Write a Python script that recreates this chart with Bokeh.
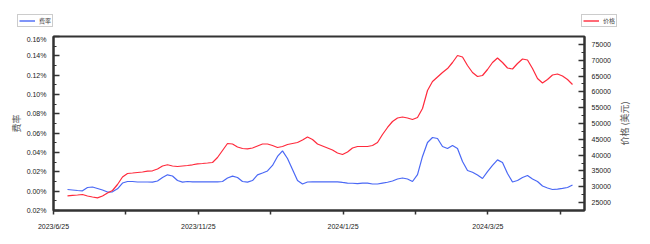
from bokeh.plotting import figure
from bokeh.layouts import column, row
from bokeh.models import Range1d, LinearAxis, FixedTicker, Legend, LegendItem, Title
from bokeh.embed import file_html
from bokeh.resources import INLINE

# ---------------- data ----------------
# fee rate, in percent (0.01 means 0.01%)
fee_rate = [
    0.0017, 0.0012, 0.0007, 0.0004, 0.0038, 0.0043, 0.0028, 0.0012, -0.0009, -0.0007,
    0.0024, 0.0084, 0.0100, 0.0100, 0.0095, 0.0095, 0.0095, 0.0093, 0.0105, 0.0141,
    0.0169, 0.0157, 0.0110, 0.0093, 0.0100, 0.0097, 0.0097, 0.0097, 0.0097, 0.0097,
    0.0097, 0.0100, 0.0136, 0.0155, 0.0141, 0.0100, 0.0093, 0.0110, 0.0169, 0.0188,
    0.0209, 0.0266, 0.0359, 0.0416, 0.0338, 0.0224, 0.0110, 0.0074, 0.0095, 0.0097,
    0.0097, 0.0097, 0.0097, 0.0097, 0.0097, 0.0090, 0.0084, 0.0082, 0.0079, 0.0084,
    0.0084, 0.0074, 0.0074, 0.0084, 0.0092, 0.0105, 0.0126, 0.0136, 0.0126, 0.0100,
    0.0172, 0.0359, 0.0503, 0.0555, 0.0545, 0.0462, 0.0441, 0.0472, 0.0441, 0.0307,
    0.0214, 0.0196, 0.0167, 0.0131, 0.0203, 0.0266, 0.0324, 0.0297, 0.0183, 0.0095,
    0.0110, 0.0141, 0.0162, 0.0126, 0.0100, 0.0053, 0.0033, 0.0017, 0.0022, 0.0028,
    0.0038, 0.0064,
]

# price, USD
price = [
    27150, 27300, 27400, 27560, 27080, 26770, 26510, 27080, 28030, 28820,
    30720, 33090, 34200, 34350, 34510, 34670, 34920, 35050, 35620, 36570,
    36950, 36570, 36410, 36570, 36720, 36950, 37260, 37360, 37510, 37670,
    39250, 41470, 43680, 43520, 42570, 42100, 42000, 42260, 42890, 43520,
    43520, 43050, 42420, 42730, 43360, 43680, 43990, 44780, 45730, 44940,
    43520, 42890, 42260, 41620, 40680, 40200, 40990, 42260, 42730, 42730,
    42730, 43050, 43990, 46520, 48740, 50630, 51740, 52050, 51740, 51260,
    51900, 54740, 60430, 63280, 64700, 66120, 67380, 69280, 71490, 71020,
    68330, 66120, 64860, 65170, 67070, 69280, 70700, 69280, 67540, 67230,
    68970, 70390, 70070, 67380, 64220, 62800, 63910, 65330, 65650, 65010,
    63910, 62330,
]

day_index = list(range(len(fee_rate)))

x_tick_labels = ["2023/6/25", "", "2023/11/25", "", "2024/1/25", "", "2024/3/25", ""]

fee_ticks = [-0.02, 0.0, 0.02, 0.04, 0.06, 0.08, 0.10, 0.12, 0.14, 0.16]
fee_tick_labels = ["0.02%", "0.00%", "0.02%", "0.04%", "0.06%", "0.08%",
                   "0.10%", "0.12%", "0.14%", "0.16%"]
fee_minor = [-0.01, 0.01, 0.03, 0.05, 0.07, 0.09, 0.11, 0.13, 0.15]

price_ticks = [25000, 30000, 35000, 40000, 45000, 50000, 55000, 60000, 65000, 70000, 75000]
price_minor = [22500, 27500, 32500, 37500, 42500, 47500, 52500, 57500, 62500, 67500, 72500, 77500]

fee_label = "费率"
price_label = "价格"
price_axis_label = "价格 (美元)"

# ---------------- styling ----------------
BLUE = "#4a68f5"
RED = "#ff2a3c"
AX = "#333333"
TICK_FONT = "Liberation Sans"
CJK = "Noto Sans CJK SC"

W, H = 650, 244
STRIP_H = 35          # legend strip above the chart
LAB_W = 35            # strip right of the chart holding the rotated price label
FRAME_L, FRAME_R = 53, 584
BOTTOM = 34

# ---------------- legend strip (above the chart) ----------------
strip = figure(width=W, height=STRIP_H, output_backend="svg", toolbar_location=None,
               x_range=Range1d(-30, -20), y_range=Range1d(0, 1),
               x_axis_location=None, y_axis_location=None,
               min_border_left=0, min_border_right=0,
               min_border_top=0, min_border_bottom=0, frame_align=False,
               border_fill_color="white", background_fill_color="white")
strip.outline_line_color = None
strip.xgrid.visible = False
strip.ygrid.visible = False
# same series, outside the strip's (empty) view: they only feed the legend glyphs
leg_blue = strip.line(day_index, fee_rate, line_color=BLUE, line_width=1.4)
leg_red = strip.line(day_index, price, line_color=RED, line_width=1.4)


def make_legend(label, renderer, loc):
    return Legend(items=[LegendItem(label=label, renderers=[renderer])],
                  location=loc, orientation="vertical",
                  label_text_font=CJK, label_text_font_size="6px",
                  label_text_color="#444444",
                  glyph_width=16, glyph_height=5, label_height=5, label_width=12,
                  label_standoff=4, padding=1, spacing=0, margin=0,
                  border_line_color="#999999", border_line_width=1,
                  background_fill_color="white", background_fill_alpha=1)


strip.add_layout(make_legend(fee_label, leg_blue, (17, 8)))
strip.add_layout(make_legend(price_label, leg_red, (581, 8)))

# ---------------- main chart ----------------
x_start, x_end = -2.8, 103.4
main_w = W - LAB_W
p = figure(width=main_w, height=H - STRIP_H, output_backend="svg", toolbar_location=None,
           x_range=Range1d(x_start, x_end), y_range=Range1d(-0.02, 0.16),
           min_border_left=FRAME_L, min_border_right=main_w - FRAME_R, min_border_top=1,
           min_border_bottom=BOTTOM, frame_align=False,
           background_fill_color="white", border_fill_color="white")
p.extra_y_ranges = {"price": Range1d(22500, 77500)}
p.xgrid.visible = False
p.ygrid.visible = False
p.outline_line_color = AX
p.outline_line_width = 2

p.line(day_index, fee_rate, line_color=BLUE, line_width=1.2)
p.line(day_index, price, line_color=RED, line_width=1.2, y_range_name="price")

# x axis
x_step = 14.48
x_ticks = [x_start + k * x_step for k in range(len(x_tick_labels))]
xa = p.xaxis[0]
xa.ticker = FixedTicker(ticks=x_ticks, minor_ticks=[])
xa.major_label_overrides = {t: l for t, l in zip(x_ticks, x_tick_labels)}
xa.axis_line_color = AX
xa.axis_line_width = 2
xa.major_tick_line_color = AX
xa.major_tick_line_width = 1.5
xa.major_tick_in = 0
xa.major_tick_out = 4
xa.minor_tick_in = 0
xa.minor_tick_out = 0
xa.major_label_standoff = 8
xa.major_label_text_font = TICK_FONT
xa.major_label_text_font_size = "7px"
xa.major_label_text_color = "#222222"

# left axis
ya = p.yaxis[0]
ya.ticker = FixedTicker(ticks=fee_ticks, minor_ticks=fee_minor)
ya.major_label_overrides = {t: l for t, l in zip(fee_ticks, fee_tick_labels)}
ya.axis_label = fee_label

# right axis
ra = LinearAxis(y_range_name="price",
                ticker=FixedTicker(ticks=price_ticks, minor_ticks=price_minor))
p.add_layout(ra, "right")

for ax in (ya, ra):
    ax.axis_line_color = AX
    ax.axis_line_width = 2
    ax.major_tick_line_color = AX
    ax.major_tick_line_width = 1.5
    ax.minor_tick_line_color = AX
    ax.minor_tick_line_width = 1.2
    ax.major_tick_in = 6
    ax.major_tick_out = 0
    ax.minor_tick_in = 3
    ax.minor_tick_out = 0
    ax.major_label_standoff = 7
    ax.major_label_text_font = TICK_FONT
    ax.major_label_text_font_size = "7px"
    ax.major_label_text_color = "#222222"
    ax.axis_label_text_font = CJK
    ax.axis_label_text_font_size = "9px"
    ax.axis_label_text_font_style = "normal"
    ax.axis_label_text_color = "#555555"
ya.axis_label_standoff = 1

# ---------------- price axis title (reads bottom-to-top, as in the reference) ----------------
lab = figure(width=LAB_W, height=H - STRIP_H, output_backend="svg", toolbar_location=None,
             x_range=Range1d(0, 1), y_range=Range1d(0, 1),
             x_axis_location=None, y_axis_location=None,
             min_border_left=0, min_border_right=0, min_border_top=1,
             min_border_bottom=BOTTOM, frame_align=False,
             border_fill_color="white", background_fill_color="white")
lab.outline_line_color = None
lab.xgrid.visible = False
lab.ygrid.visible = False
lab.add_layout(Title(text=price_axis_label, align="center", text_font=CJK,
                     text_font_size="9px", text_font_style="normal",
                     text_color="#555555", standoff=0, offset=0), "left")

layout = column(strip, row(p, lab, spacing=0), spacing=0)
open("out.html", "w").write(file_html(layout, INLINE))
